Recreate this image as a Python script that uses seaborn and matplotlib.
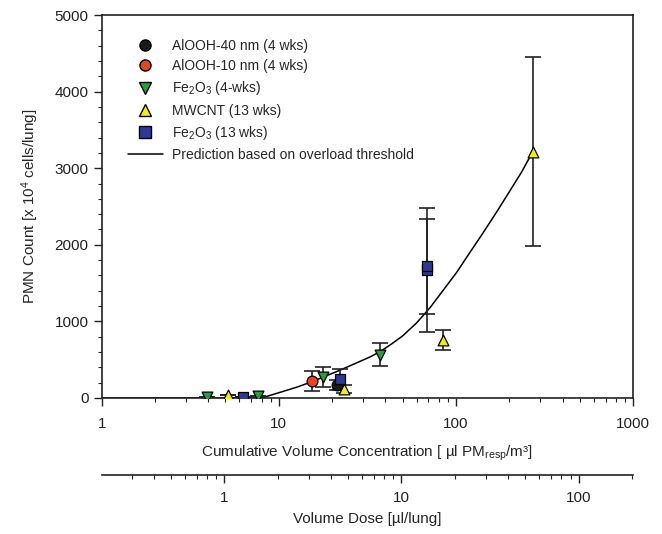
import numpy as np
import matplotlib
matplotlib.use("Agg")
import matplotlib.pyplot as plt
from matplotlib.ticker import MultipleLocator, FuncFormatter, FixedLocator
from matplotlib.lines import Line2D
import seaborn as sns

# values (x = cumulative volume concentration, y = PMN count)
alooh40_x = [21.2]
alooh40_y = [170]
alooh40_err = [70]

alooh10_x = [15.5]
alooh10_y = [226]
alooh10_err = [130]

fe4_x = [3.92, 7.66, 17.7, 37.3]
fe4_y = [8, 22, 270, 566]
fe4_err = [0, 0, 130, 148]

mwcnt_x = [5.15, 23.4, 84.2, 271.5]
mwcnt_y = [40, 117, 757, 3215]
mwcnt_err = [0, 50, 135, 1235]

fe13_x = [6.25, 22.2, 69, 69]
fe13_y = [15, 244, 1670, 1720]
fe13_err = [0, 135, 810, 620]

# prediction curve read at a few points
pred_x = [1, 8, 10.2, 12.6, 15.5, 22, 27, 32.7, 37.3, 43, 50, 60, 71.5, 85, 101, 120, 142.8, 170, 200, 235, 271.5]
pred_y = [0, 0, 75, 140, 215, 360, 450, 535, 605, 700, 810, 980, 1180, 1410, 1640, 1900, 2160, 2430, 2690, 2950, 3215]

# conc -> dose factor (1 ul/lung sits at ~4.93 on the top axis)
dose_factor = 4.93
dose_ticks = [1, 10, 100]

sns.set_theme(style="ticks")
plt.rcParams["font.family"] = ["Liberation Sans", "DejaVu Sans"]
plt.rcParams["mathtext.fontset"] = "custom"
plt.rcParams["mathtext.rm"] = "Liberation Sans"
plt.rcParams["mathtext.it"] = "Liberation Sans:italic"

fig = plt.figure(figsize=(6.62, 5.34), dpi=100)
ax = fig.add_axes([0.1536, 0.2547, 0.8026, 0.7172])

# prediction line
sns.lineplot(x=pred_x, y=pred_y, color="black", linewidth=1.1, ax=ax, zorder=2)

series = [
    (alooh40_x, alooh40_y, alooh40_err, "o", "#1a1a1a", "AlOOH-40 nm (4 wks)"),
    (alooh10_x, alooh10_y, alooh10_err, "o", "#e8451e", "AlOOH-10 nm (4 wks)"),
    (fe4_x, fe4_y, fe4_err, "v", "#23a03c", "Fe$_2$O$_3$ (4-wks)"),
    (mwcnt_x, mwcnt_y, mwcnt_err, "^", "#f5f000", "MWCNT (13 wks)"),
    (fe13_x, fe13_y, fe13_err, "s", "#2b3a96", "Fe$_2$O$_3$ (13 wks)"),
]

handles = []
for xs, ys, errs, mk, col, lab in series:
    ax.errorbar(xs, ys, yerr=errs, fmt="none", ecolor="#222222", elinewidth=1.2,
                capsize=6, capthick=1.2, zorder=3)
    sns.scatterplot(x=xs, y=ys, marker=mk, color=col, edgecolor="black", linewidth=0.9,
                    s=60, ax=ax, zorder=4, legend=False)
    handles.append(Line2D([], [], marker=mk, color="none", markerfacecolor=col,
                          markeredgecolor="black", markersize=8, label=lab))
handles.append(Line2D([], [], color="black", linewidth=1.1,
                      label="Prediction based on overload threshold"))

ax.legend(handles=handles, loc="upper left", bbox_to_anchor=(0.039, 0.952), frameon=False,
          fontsize=10, handlelength=2.5, handletextpad=0.65, labelspacing=0.45,
          borderaxespad=0)

ax.set_xscale("log")
ax.set_xlim(1, 1000)
ax.set_ylim(0, 5000)
ax.xaxis.set_major_formatter(FuncFormatter(lambda v, p: f"{v:g}"))
ax.yaxis.set_major_locator(MultipleLocator(1000))
ax.yaxis.set_minor_locator(MultipleLocator(200))
ax.tick_params(which="major", direction="out", length=6, width=1, labelsize=11, colors="#222222")
ax.tick_params(which="minor", direction="out", length=3, width=0.8, colors="#222222")
ax.tick_params(axis="x", which="major", pad=8)
for sp in ax.spines.values():
    sp.set_visible(True)
    sp.set_color("#222222")
    sp.set_linewidth(1.2)

ax.set_xlabel("Cumulative Volume Concentration [ \u00b5l PM$_{\\mathrm{resp}}$/m\u00b3]",
              fontsize=11, labelpad=9)
ax.set_ylabel("PMN Count [x 10$^4$ cells/lung]", fontsize=11, labelpad=10)

# second x scale for the volume dose
sec = ax.secondary_xaxis(-0.2, functions=(lambda c: c / dose_factor, lambda d: d * dose_factor))
sec.xaxis.set_major_locator(FixedLocator(dose_ticks))
sec.xaxis.set_major_formatter(FuncFormatter(lambda v, p: f"{v:g}"))
sec.tick_params(which="major", direction="out", length=6, width=1, labelsize=11, colors="#222222", pad=6)
sec.tick_params(which="minor", direction="out", length=3, width=0.8, colors="#222222")
sec.spines["bottom"].set_color("#222222")
sec.spines["bottom"].set_linewidth(1.2)
sec.set_xlabel("Volume Dose [\u00b5l/lung]", fontsize=11, labelpad=5)

fig.savefig("out.png", dpi=100)
